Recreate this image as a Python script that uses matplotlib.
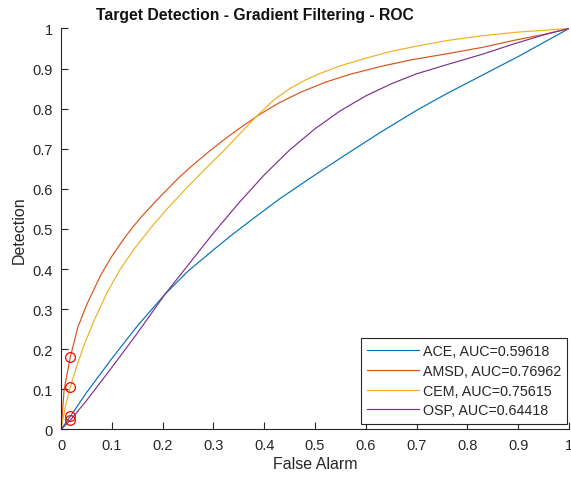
import numpy as np
import matplotlib.pyplot as plt
from matplotlib.ticker import FormatStrFormatter, MultipleLocator

plt.rcParams['font.family'] = ['Liberation Sans', 'DejaVu Sans']

# ROC curves (false alarm, detection)
ace_fa = [0, 0.02, 0.05, 0.1, 0.15, 0.205, 0.25, 0.3, 0.33, 0.372, 0.43, 0.5,
          0.56, 0.63, 0.7, 0.76, 0.83, 0.9, 0.95, 1]
ace_det = [0, 0.036, 0.092, 0.177, 0.258, 0.338, 0.395, 0.448, 0.479, 0.52, 0.575, 0.635,
           0.685, 0.742, 0.796, 0.838, 0.884, 0.93, 0.965, 1]

amsd_fa = [0, 0.006, 0.018, 0.033, 0.05, 0.078, 0.1, 0.125, 0.14, 0.16, 0.19, 0.21,
           0.235, 0.26, 0.29, 0.32, 0.35, 0.39, 0.43, 0.47, 0.52, 0.57, 0.628, 0.69,
           0.76, 0.83, 0.89, 0.95, 1]
amsd_det = [0, 0.10, 0.18, 0.255, 0.31, 0.385, 0.432, 0.478, 0.503, 0.533, 0.574, 0.60,
            0.632, 0.66, 0.692, 0.722, 0.75, 0.785, 0.815, 0.84, 0.866, 0.886, 0.905, 0.922,
            0.937, 0.953, 0.97, 0.985, 1]

cem_fa = [0, 0.008, 0.018, 0.03, 0.045, 0.066, 0.09, 0.1155, 0.145, 0.178, 0.21, 0.247,
          0.28, 0.316, 0.35, 0.388, 0.42, 0.45, 0.48, 0.51, 0.55, 0.6, 0.65, 0.7, 0.76,
          0.83, 0.9, 1]
cem_det = [0, 0.055, 0.105, 0.155, 0.21, 0.275, 0.34, 0.398, 0.452, 0.505, 0.552, 0.602,
           0.645, 0.69, 0.735, 0.785, 0.823, 0.85, 0.871, 0.888, 0.907, 0.926, 0.943, 0.956, 0.97,
           0.982, 0.991, 1]

osp_fa = [0, 0.02, 0.05, 0.1, 0.15, 0.205, 0.25, 0.3, 0.35, 0.4, 0.45, 0.5, 0.55, 0.6,
          0.65, 0.7, 0.76, 0.83, 0.89, 0.95, 1]
osp_det = [0, 0.026, 0.072, 0.155, 0.24, 0.338, 0.41, 0.49, 0.565, 0.635, 0.697, 0.75, 0.795,
           0.832, 0.862, 0.887, 0.91, 0.936, 0.961, 0.984, 1]

names = ['ACE', 'AMSD', 'CEM', 'OSP']
auc = [0.59618, 0.76962, 0.75615, 0.64418]

# operating points marked with red circles
op_fa = [0.0184, 0.0184, 0.0184, 0.0184]
op_det = [0.034, 0.18, 0.105, 0.024]

colors = ['#0072BD', '#D95319', '#EDB120', '#7E2F8E']
curves = [(ace_fa, ace_det), (amsd_fa, amsd_det), (cem_fa, cem_det), (osp_fa, osp_det)]

fig = plt.figure(figsize=(5.71, 4.81), dpi=100)
ax = fig.add_axes([0.107, 0.105, 0.8895, 0.8337])

for (fa, det), name, a, c in zip(curves, names, auc, colors):
    ax.plot(fa, det, color=c, linewidth=0.85, label='%s, AUC=%.5f' % (name, a))
for fx, dy in zip(op_fa, op_det):
    ax.plot(fx, dy, 'o', markersize=7, markerfacecolor='none',
            markeredgecolor='#FF0000', markeredgewidth=0.9)

ax.set_xlim(0, 1)
ax.set_ylim(0, 1)
ax.xaxis.set_major_locator(MultipleLocator(0.1))
ax.yaxis.set_major_locator(MultipleLocator(0.1))
ax.xaxis.set_major_formatter(FormatStrFormatter('%g'))
ax.yaxis.set_major_formatter(FormatStrFormatter('%g'))

grey = '#262626'
for side in ['top', 'right']:
    ax.spines[side].set_visible(False)
for side in ['left', 'bottom']:
    ax.spines[side].set_color(grey)
    ax.spines[side].set_linewidth(0.8)
ax.tick_params(direction='in', length=5, width=0.8, colors=grey,
               labelsize=10.5, pad=6)

ax.set_title('Target Detection - Gradient Filtering - ROC', fontsize=11.3,
             fontweight='bold', color='#111111', pad=7, x=0.381)
ax.set_xlabel('False Alarm', fontsize=11.5, color=grey, labelpad=3)
ax.set_ylabel('Detection', fontsize=11.5, color=grey, labelpad=4)

leg = ax.legend(loc='lower right', fontsize=10.3, frameon=True, fancybox=False,
                framealpha=1, edgecolor=grey, handlelength=3.6,
                handletextpad=0.25, borderpad=0.45, labelspacing=0.4,
                borderaxespad=0, bbox_to_anchor=(0.9965, 0.014))
leg.get_frame().set_linewidth(0.8)
for t in leg.get_texts():
    t.set_color(grey)

fig.savefig('out.png', dpi=100)
